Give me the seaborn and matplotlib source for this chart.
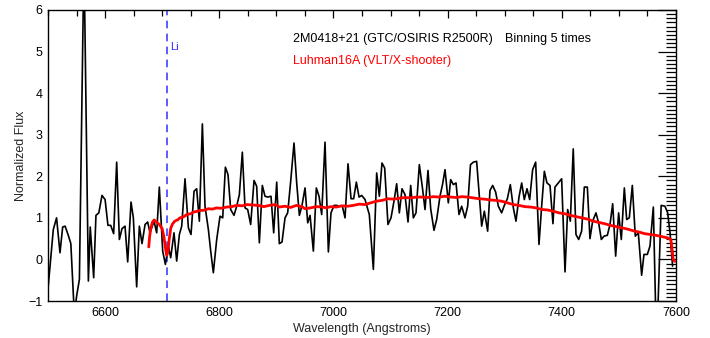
import matplotlib
matplotlib.use("Agg")
import matplotlib.pyplot as plt
from matplotlib.ticker import MultipleLocator
import seaborn as sns
import pandas as pd

# Binned GTC/OSIRIS spectrum of 2M0418+21 (wavelength in Angstroms, normalized flux)
osiris_wave = [
    6499.4, 6509.3, 6515.0, 6521.0, 6525.7, 6530.0, 6536.0, 6540.0, 6546.0, 6550.5,
    6555.0, 6563.0, 6570.7, 6574.0, 6580.0, 6584.0, 6589.0, 6594.6, 6600.0, 6605.0,
    6609.8, 6615.0, 6620.3, 6625.0, 6629.6, 6634.9, 6639.6, 6645.4, 6649.5, 6655.3,
    6660.0, 6664.7, 6670.0, 6674.6, 6678.7, 6685.7, 6690.4, 6695.0, 6700.9, 6705.6,
    6710.8, 6714.9, 6720.7, 6725.4, 6730.1, 6734.2, 6740.0, 6745.9, 6750.5, 6755.8,
    6760.4, 6765.1, 6770.4, 6775.0, 6780.9, 6785.0, 6789.6, 6795.5, 6801.3, 6806.0,
    6810.7, 6815.3, 6820.0, 6825.8, 6830.5, 6835.2, 6840.4, 6845.1, 6849.8, 6855.0,
    6860.9, 6865.5, 6870.2, 6875.4, 6880.1, 6884.8, 6890.6, 6895.3, 6900.6, 6905.2,
    6909.9, 6915.2, 6919.8, 6925.1, 6930.9, 6935.6, 6940.3, 6944.9, 6950.2, 6954.9,
    6959.0, 6964.8, 6970.0, 6974.7, 6979.4, 6985.2, 6991.1, 6995.7, 7001.0, 7005.7,
    7011.5, 7015.6, 7020.3, 7025.5, 7030.8, 7035.4, 7040.1, 7044.8, 7049.5, 7055.3,
    7062.8, 7069.9, 7075.7, 7080.4, 7085.0, 7089.7, 7095.5, 7100.8, 7106.0, 7110.7,
    7115.4, 7120.1, 7125.3, 7130.6, 7135.3, 7139.9, 7144.6, 7150.4, 7155.7, 7160.4,
    7165.6, 7170.3, 7176.1, 7180.8, 7186.6, 7191.0, 7195.4, 7201.2, 7205.3, 7210.0,
    7214.7, 7219.9, 7224.6, 7230.4, 7235.1, 7240.0, 7245.0, 7250.8, 7254.9, 7259.6,
    7264.3, 7270.1, 7274.2, 7278.9, 7284.1, 7288.8, 7294.6, 7299.3, 7304.6, 7309.8,
    7315.1, 7319.7, 7325.0, 7329.7, 7334.3, 7339.0, 7343.7, 7348.9, 7354.2, 7360.0,
    7364.7, 7369.4, 7374.0, 7379.3, 7384.5, 7388.0, 7393.9, 7399.7, 7405.6, 7410.2,
    7414.9, 7420.0, 7424.8, 7429.5, 7434.7, 7439.4, 7444.7, 7449.3, 7454.0, 7459.8,
    7464.5, 7469.2, 7473.9, 7479.7, 7484.4, 7489.1, 7494.3, 7499.5, 7504.2, 7509.5,
    7513.6, 7518.2, 7523.5, 7528.7, 7534.0, 7539.8, 7543.9, 7549.8, 7554.4, 7560.3,
    7566.0, 7574.0, 7580.7, 7585.4, 7589.6, 7594.0,
]
osiris_flux = [
    -0.80, 0.72, 1.00, 0.16, 0.78, 0.80, 0.56, 0.38, -1.30, -0.85,
    -0.48, 7.30, -0.52, 0.78, -0.44, 1.06, 1.12, 1.54, 1.44, 0.82,
    0.82, 0.62, 2.34, 0.48, 0.74, 0.80, -0.06, 1.38, 1.00, -0.66,
    0.80, 0.38, 0.84, 0.90, 0.64, 0.92, 0.64, 1.74, 0.20, -0.12,
    0.32, 0.04, 0.64, -0.04, 0.60, 0.80, 1.94, 0.76, 0.60, 1.64,
    1.70, 0.92, 3.26, 1.28, 0.72, 0.20, -0.32, 0.48, 1.04, 1.00,
    2.22, 2.04, 1.20, 1.06, 1.28, 1.56, 2.58, 1.24, 1.20, 0.84,
    1.90, 1.76, 0.40, 1.78, 1.52, 1.50, 1.52, 0.64, 1.86, 0.38,
    0.42, 1.00, 1.12, 1.88, 2.80, 1.84, 1.06, 1.30, 1.72, 0.88,
    1.06, 0.20, 1.72, 1.52, 1.08, 2.82, 0.18, 1.12, 1.30, 1.30,
    1.28, 1.28, 1.00, 2.30, 1.46, 1.46, 1.86, 1.50, 1.54, 1.44,
    1.08, -0.24, 2.08, 1.52, 2.32, 2.20, 0.84, 1.00, 1.40, 1.82,
    1.12, 1.70, 1.56, 0.90, 1.78, 1.00, 1.12, 2.28, 1.74, 1.20,
    2.14, 1.22, 0.70, 0.96, 1.52, 1.80, 2.16, 1.36, 1.92, 1.80,
    1.84, 1.08, 1.28, 1.00, 1.28, 2.28, 2.34, 2.36, 1.64, 0.80,
    1.16, 0.68, 1.66, 1.78, 1.62, 1.28, 1.12, 1.30, 1.46, 1.80,
    1.24, 0.92, 1.50, 1.84, 1.44, 1.70, 1.44, 2.16, 2.34, 0.36,
    1.28, 2.12, 1.84, 1.78, 0.86, 1.74, 1.84, 1.94, -0.30, 1.20,
    0.92, 2.66, 0.60, 0.48, 0.68, 1.74, 1.74, 0.50, 0.92, 1.12,
    0.88, 0.48, 0.56, 0.58, 0.84, 1.34, 0.08, 1.12, 0.48, 1.72,
    0.96, 1.00, 1.78, 0.56, 0.64, -0.38, 0.12, 0.12, 0.32, 1.26,
    -2.20, 1.30, 1.28, 1.12, 0.64, -0.16,
]

# VLT/X-shooter template of Luhman 16A
xsh_wave = [
    6676.5, 6678.0, 6680.0, 6683.0, 6686.0, 6690.0, 6695.0, 6700.0, 6703.0, 6706.0,
    6708.0, 6710.0, 6712.0, 6715.0, 6718.0, 6722.0, 6728.0, 6731.0, 6737.0, 6743.0,
    6750.0, 6755.0, 6762.0, 6766.0, 6772.0, 6781.0, 6788.0, 6795.0, 6803.0, 6813.0,
    6822.0, 6830.0, 6840.0, 6848.0, 6858.0, 6868.0, 6878.0, 6888.0, 6898.0, 6905.0,
    6915.0, 6925.0, 6935.0, 6945.0, 6950.0, 6960.0, 6970.0, 6980.0, 6988.0, 6995.0,
    7005.0, 7015.0, 7025.0, 7035.0, 7045.0, 7055.0, 7065.0, 7075.0, 7085.0, 7095.0,
    7105.0, 7115.0, 7125.0, 7135.0, 7145.0, 7155.0, 7165.0, 7175.0, 7185.0, 7195.0,
    7205.0, 7215.0, 7225.0, 7235.0, 7245.0, 7255.0, 7265.0, 7275.0, 7285.0, 7295.0,
    7305.0, 7315.0, 7325.0, 7335.0, 7345.0, 7355.0, 7365.0, 7375.0, 7385.0, 7395.0,
    7405.0, 7415.0, 7425.0, 7435.0, 7445.0, 7455.0, 7465.0, 7475.0, 7485.0, 7495.0,
    7505.0, 7515.0, 7525.0, 7535.0, 7545.0, 7555.0, 7565.0, 7575.0, 7585.0, 7591.0,
    7593.0, 7595.0, 7598.0,
]
xsh_flux = [
    0.30, 0.55, 0.75, 0.90, 0.95, 0.90, 0.84, 0.74, 0.55, 0.25,
    0.10, 0.18, 0.45, 0.75, 0.85, 0.92, 0.96, 1.00, 1.02, 1.08,
    1.10, 1.14, 1.16, 1.18, 1.18, 1.22, 1.21, 1.24, 1.23, 1.26,
    1.27, 1.30, 1.29, 1.32, 1.31, 1.30, 1.27, 1.30, 1.32, 1.26,
    1.28, 1.25, 1.30, 1.27, 1.22, 1.24, 1.27, 1.26, 1.24, 1.27,
    1.26, 1.29, 1.28, 1.30, 1.33, 1.32, 1.36, 1.40, 1.42, 1.46,
    1.45, 1.47, 1.49, 1.48, 1.50, 1.50, 1.49, 1.51, 1.50, 1.52,
    1.50, 1.49, 1.51, 1.50, 1.48, 1.46, 1.45, 1.43, 1.42, 1.40,
    1.36, 1.32, 1.30, 1.27, 1.26, 1.24, 1.20, 1.19, 1.16, 1.12,
    1.10, 1.06, 1.03, 1.00, 0.97, 0.92, 0.89, 0.86, 0.82, 0.79,
    0.76, 0.73, 0.69, 0.66, 0.62, 0.60, 0.58, 0.55, 0.52, 0.48,
    0.25, 0.00, -0.05,
]

li_wave = 6708.0
x_ticks = [6600, 6800, 7000, 7200, 7400, 7600]
y_ticks = [-1, 0, 1, 2, 3, 4, 5, 6]

sns.set_style("white")
plt.rcParams["font.family"] = ["Liberation Sans", "DejaVu Sans"]

fig = plt.figure(figsize=(7.10, 3.38), dpi=100)
ax = fig.add_axes([48 / 710, 1 - 301 / 338, 628 / 710, 291 / 338])

osiris = pd.DataFrame({"wave": osiris_wave, "flux": osiris_flux})
xsh = pd.DataFrame({"wave": xsh_wave, "flux": xsh_flux})

ax.axvline(li_wave, color="#3030ff", lw=1.1, ls=(0, (5, 3.5)), zorder=1)
sns.lineplot(data=osiris, x="wave", y="flux", ax=ax, color="black", lw=1.2,
             sort=False, estimator=None, zorder=2)
sns.lineplot(data=xsh, x="wave", y="flux", ax=ax, color="#ff0000", lw=2.0,
             sort=False, estimator=None, zorder=3)

ax.set_xlim(6500, 7600)
ax.set_ylim(-1, 6)
ax.set_xticks(x_ticks)
ax.set_yticks(y_ticks)
ax.xaxis.set_minor_locator(MultipleLocator(50))
ax.yaxis.set_minor_locator(MultipleLocator(0.1))
ax.tick_params(which="both", direction="in", top=True, right=True,
               colors="black", labelsize=9, width=0.9)
ax.tick_params(axis="x", which="major", length=6, pad=4)
ax.tick_params(axis="x", which="minor", length=4)
ax.tick_params(axis="y", which="major", length=13, pad=4)
ax.tick_params(axis="y", which="minor", length=7)
for side in ax.spines.values():
    side.set_color("black")
    side.set_linewidth(1.0)

ax.set_xlabel("Wavelength (Angstroms)", fontsize=9, labelpad=3)
ax.set_ylabel("Normalized Flux", fontsize=9, labelpad=1)

ax.text(6714, 5.11, "Li", color="#3030ff", fontsize=8, va="center", ha="left")
ax.text(6929, 5.30, "2M0418+21 (GTC/OSIRIS R2500R)", color="black",
        fontsize=9, va="center", ha="left")
ax.text(7300, 5.30, "Binning 5 times", color="black", fontsize=9,
        va="center", ha="left")
ax.text(6929, 4.78, "Luhman16A (VLT/X-shooter)", color="#ff0000",
        fontsize=9, va="center", ha="left")

fig.savefig("out.png", dpi=100)
